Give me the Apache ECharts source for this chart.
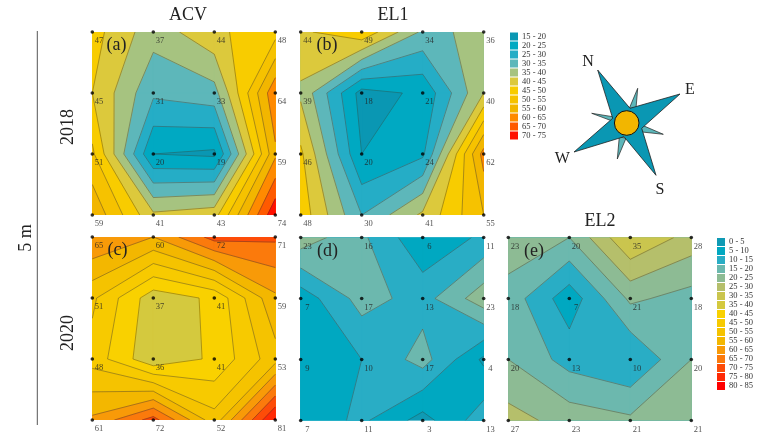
<!DOCTYPE html>
<html><head><meta charset="utf-8">
<style>html,body{margin:0;padding:0;background:#fff}#c{width:760px;height:444px}</style>
<script src="https://cdn.jsdelivr.net/npm/echarts@6/dist/echarts.min.js"></script>
</head><body><div id="c"></div>
<script>
const acv2018=[[47,37,44,48],[45,31,33,64],[51,20,19,59],[59,41,43,74]];
const el12018=[[44,49,34,36],[39,18,21,40],[46,20,24,62],[48,30,41,55]];
const acv2020=[[65,60,72,71],[51,37,41,59],[48,36,41,53],[61,72,52,81]];
const el12020=[[23,16,6,11],[7,17,13,23],[9,10,17,4],[7,11,3,13]];
const el22020=[[23,20,35,28],[18,7,21,18],[20,13,10,20],[27,23,21,21]];
const bandLow=[0,5,10,15,20,25,30,35,40,45,50,55,60,65,70,75,80];
const colorsLow=['#0f9ab4','#00a8c1','#29adc5','#6cb8ae','#8dbb94','#b5bf6b','#cac54e','#d4c93e','#f9d100','#f7ca00','#f5c300','#f3b700','#f89a08','#fb7a0c','#fd4c08','#ff2a05','#ff0000'];
const bands1=[15,20,25,30,35,40,45,50,55,60,65,70];
const colors1=['#0a97b3','#00a9c2','#25adc6','#5db7ba','#a6c380','#dcc93c','#f8cc00','#f6c200','#f2b600','#ff8a00','#ff5a00','#ff1000'];
const panels=[
 {t:'(a)',v:acv2018,b:bands1,c:colors1,x:92.3,y:32,lx:116.5,ly:45.5},
 {t:'(b)',v:el12018,b:bands1,c:colors1,x:300.7,y:32,lx:327,ly:45},
 {t:'(c)',v:acv2020,b:bandLow,c:colorsLow,x:92.3,y:237,lx:117.5,ly:250},
 {t:'(d)',v:el12020,b:bandLow,c:colorsLow,x:300.7,y:237.5,lx:327.5,ly:251},
 {t:'(e)',v:el22020,b:bandLow,c:colorsLow,x:508.3,y:237.5,lx:534,ly:251}];
const SIZE=183, FONT='"Liberation Serif",serif';
const name=l=>l+' - '+(l+5);

// marching squares: each cell's corners in perimeter order
function cells(v){const o=[];for(let r=0;r<3;r++)for(let c=0;c<3;c++){
 o.push([[c,r,v[r][c]],[c+1,r,v[r][c+1]],[c+1,r+1,v[r+1][c+1]],[c,r+1,v[r+1][c]]]);
}return o;}
const cross=(p,q,L)=>{const t=(L-p[2])/(q[2]-p[2]);return [p[0]+t*(q[0]-p[0]),p[1]+t*(q[1]-p[1])];};
function isSaddle(q,L){const a=q.map(p=>p[2]>=L);return a[0]===a[2]&&a[1]===a[3]&&a[0]!==a[1];}
const mean=q=>(q[0][2]+q[1][2]+q[2][2]+q[3][2])/4;
// region of a cell where value >= L, as a list of polygons
function above(q,L){
 if(isSaddle(q,L)&&mean(q)<L){
  const i=q[0][2]>=L?0:1;
  return [i,i+2].map(k=>[q[k].slice(0,2),cross(q[k],q[(k+1)%4],L),cross(q[(k+3)%4],q[k],L)]);
 }
 const out=[];for(let i=0;i<4;i++){const p=q[i],n=q[(i+1)%4];
  const ip=p[2]>=L,in_=n[2]>=L;
  if(ip)out.push(p.slice(0,2));
  if(ip!==in_)out.push(cross(p,n,L));
 }
 return out.length>2?[out]:[];
}
// contour chords of a cell at level L
function chords(q,L){
 const pts=[];for(let i=0;i<4;i++){const p=q[i],n=q[(i+1)%4];
  pts.push((p[2]>=L)!==(n[2]>=L)?cross(p,n,L):null);}
 if(isSaddle(q,L)){
  const highAC=q[0][2]>=L, connectHigh=mean(q)>=L;
  return highAC===connectHigh?[[pts[0],pts[1]],[pts[2],pts[3]]]:[[pts[3],pts[0]],[pts[1],pts[2]]];
 }
 const f=pts.filter(Boolean);return f.length===2?[f]:[];
}

const grid=[],xAxis=[],yAxis=[],series=[];
panels.forEach((P,i)=>{
 grid.push({left:P.x,top:P.y,width:SIZE,height:SIZE});
 xAxis.push({type:'value',gridIndex:i,min:0,max:3,show:false});
 yAxis.push({type:'value',gridIndex:i,min:0,max:3,inverse:true,show:false});
 const Q=cells(P.v);
 P.b.forEach((lo,k)=>{
  const polys=[];
  Q.forEach(q=>above(q,lo).forEach(p=>polys.push(p)));
  series.push({type:'custom',name:name(lo),xAxisIndex:i,yAxisIndex:i,coordinateSystem:'cartesian2d',clip:true,z:1,silent:true,
   data:polys.map((_,n)=>[n]),
   renderItem:(pr,api)=>({type:'polygon',shape:{points:polys[pr.dataIndex].map(q=>api.coord([q[0],q[1]]))},
     style:{fill:P.c[k],stroke:P.c[k],lineWidth:1}})});
 });
 const segs=[];
 P.b.forEach(lo=>{ if(lo>0) Q.forEach(q=>chords(q,lo).forEach(s=>segs.push(s))); });
 series.push({type:'custom',name:'contours'+i,xAxisIndex:i,yAxisIndex:i,clip:true,z:2,silent:true,
   data:segs.map((_,n)=>[n]),
   renderItem:(pr,api)=>{const s=segs[pr.dataIndex],a=api.coord(s[0]),b=api.coord(s[1]);
    return {type:'line',shape:{x1:a[0],y1:a[1],x2:b[0],y2:b[1]},style:{stroke:'#3a3a30',lineWidth:0.55,opacity:0.75}};}});
 const pts=[];P.v.forEach((row,r)=>row.forEach((val,c)=>pts.push([c,r,val])));
 series.push({type:'scatter',name:'points'+i,xAxisIndex:i,yAxisIndex:i,z:3,silent:true,clip:false,symbolSize:3.6,
  itemStyle:{color:'#000'},data:pts,
  label:{show:true,position:'inside',offset:[6.7,9],formatter:p=>p.value[2],fontFamily:FONT,fontSize:8.5,color:'#222'}});
});

const titles=[['ACV',188,15],['EL1',393,15],['EL2',600,221]].map(t=>({text:t[0],left:t[1],top:t[2]-10,textAlign:'center',padding:0,
  textStyle:{fontFamily:FONT,fontSize:18,fontWeight:'normal',color:'#222',lineHeight:20}}));
const txt=(s,x,y,size,rot)=>({type:'text',x:x,y:y,rotation:rot||0,z:10,style:{text:s,fontFamily:FONT,fontSize:size,fill:'#222',textAlign:'center',textVerticalAlign:'middle'}});
const R=Math.PI/2;
const graphic=[
 {type:'line',shape:{x1:37.3,y1:31,x2:37.3,y2:425},style:{stroke:'#555',lineWidth:1}},
 txt('5 m',26,238,18,R),txt('2018',68,127,18,R),txt('2020',68,333,18,R),
 ...panels.map(P=>txt(P.t,P.lx,P.ly,18)),
 {type:'polygon',shape:{points:[[629.3,108.3],[637.7,88.3],[636,108.3]]},style:{fill:'#5db7ba',stroke:'#222',lineWidth:0.7}},
 {type:'polygon',shape:{points:[[641.7,125],[663.3,134.3],[639.3,131.7]]},style:{fill:'#5db7ba',stroke:'#222',lineWidth:0.7}},
 {type:'polygon',shape:{points:[[619.3,136.7],[617.3,159],[626,138.3]]},style:{fill:'#5db7ba',stroke:'#222',lineWidth:0.7}},
 {type:'polygon',shape:{points:[[612.7,116.7],[591.7,113.3],[614,121.7]]},style:{fill:'#5db7ba',stroke:'#222',lineWidth:0.7}},
 {type:'polygon',shape:{points:[[597.7,70],[630,108.3],[680,94],[641.7,128.3],[656,175.3],[624,136.7],[574,152],[612.7,118.3]]},style:{fill:'#0a97b3',stroke:'#222',lineWidth:0.8}},
 {type:'circle',shape:{cx:626.7,cy:123,r:12.3},style:{fill:'#f2b600',stroke:'#111',lineWidth:1}},
 txt('N',588,62,16),txt('E',690,90,16),txt('S',660,189.5,16),txt('W',562.3,158.5,16)
];
const mkLegend=(lows,cols,left,top)=>({orient:'vertical',left:left,top:top,itemWidth:8,itemHeight:8,itemGap:0,icon:'rect',selectedMode:false,padding:0,
  textStyle:{fontFamily:FONT,fontSize:8.5,color:'#333',lineHeight:8,padding:[0,0,0,-1]},
  data:lows.map((l,i)=>({name:name(l),itemStyle:{color:cols[i]}}))});
const chart=echarts.init(document.getElementById('c'),null,{renderer:'canvas'});
chart.setOption({animation:false,backgroundColor:'#fff',title:titles,tooltip:{show:false},
 legend:[mkLegend(bands1,colors1,510,32),mkLegend(bandLow,colorsLow,717,237.5)],
 grid,xAxis,yAxis,series,graphic});
</script></body></html>
